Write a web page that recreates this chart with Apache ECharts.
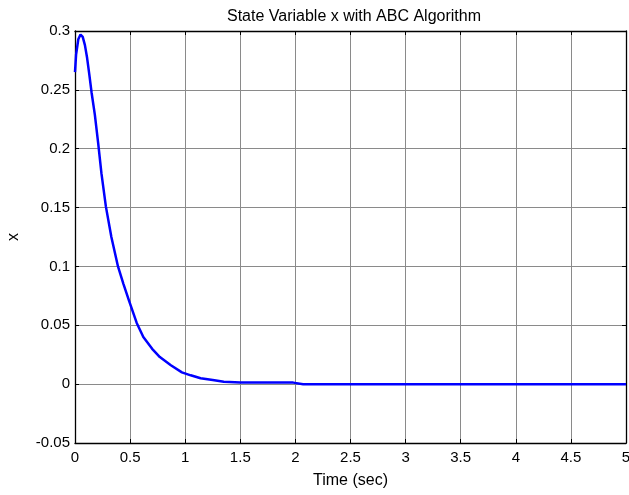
<!doctype html>
<html lang="en">
<head>
    <meta charset="UTF-8">
    <title>State Variable x</title>
    <script src="https://cdn.jsdelivr.net/npm/echarts@6/dist/echarts.min.js"></script>
    <style>
        body { margin: 0; background: #fff; }
        #main { width: 629px; height: 495px; }
    </style>
</head>
<body>
    <div id="main"></div>
    <script>
        // time (sec) and state x
        var time = [0, 0.01, 0.03, 0.05, 0.07, 0.09, 0.11, 0.13, 0.15, 0.18, 0.21, 0.24,
            0.28, 0.33, 0.39, 0.44, 0.49, 0.56, 0.62, 0.7, 0.77, 0.87, 0.97, 1.05, 1.14,
            1.25, 1.35, 1.5, 1.75, 1.98, 2.07, 2.5, 3, 3.5, 4, 4.5, 5];
        var xValues = [0.265, 0.28, 0.293, 0.297, 0.295, 0.288, 0.277, 0.263, 0.248, 0.229, 0.205, 0.179,
            0.151, 0.125, 0.100, 0.085, 0.071, 0.052, 0.040, 0.030, 0.023, 0.016, 0.010, 0.0075, 0.005,
            0.0035, 0.002, 0.0014, 0.0013, 0.0013, 0, 0, 0, 0, 0, 0, 0];

        var xTicks = { min: 0, max: 5, interval: 0.5 };
        var yTicks = { min: -0.05, max: 0.3, interval: 0.05 };

        var pts = time.map(function (t, i) { return [t, xValues[i]]; });

        var font = 'Liberation Sans, Arial, sans-serif';
        var gridLine = { show: true, lineStyle: { color: '#8a8a8a', width: 1 } };
        var boxLine = { show: true, onZero: false, lineStyle: { color: '#000', width: 1.3 } };
        var tick = { show: true, inside: true, length: 4, lineStyle: { color: '#000' } };

        var myChart = echarts.init(document.getElementById('main'));
        myChart.setOption({
            animation: false,
            title: {
                text: 'State Variable x with ABC Algorithm',
                left: 349, top: 4, textAlign: 'center',
                textStyle: { fontFamily: font, fontSize: 16, fontWeight: 'normal', color: '#000' }
            },
            grid: { left: 75, right: 3, top: 31, bottom: 52, outerBoundsMode: 'none', containLabel: false },
            xAxis: [{
                type: 'value', min: xTicks.min, max: xTicks.max, interval: xTicks.interval,
                name: 'Time (sec)', nameLocation: 'middle', nameGap: 30,
                nameTextStyle: { fontFamily: font, fontSize: 16, color: '#000' },
                axisLine: boxLine, axisTick: tick, splitLine: gridLine,
                axisLabel: { fontFamily: font, fontSize: 15, color: '#000', margin: 7 }
            }, {
                type: 'value', position: 'top', min: xTicks.min, max: xTicks.max, interval: xTicks.interval,
                axisLine: boxLine, axisTick: tick, splitLine: { show: false }, axisLabel: { show: false }
            }],
            yAxis: [{
                type: 'value', min: yTicks.min, max: yTicks.max, interval: yTicks.interval,
                name: 'x', nameLocation: 'middle', nameGap: 53,
                nameTextStyle: { fontFamily: font, fontSize: 16, color: '#000' },
                axisLine: boxLine, axisTick: tick, splitLine: gridLine,
                axisLabel: { fontFamily: font, fontSize: 15, color: '#000', margin: 5 }
            }, {
                type: 'value', position: 'right', min: yTicks.min, max: yTicks.max, interval: yTicks.interval,
                axisLine: boxLine, axisTick: tick, splitLine: { show: false }, axisLabel: { show: false }
            }],
            series: [{
                type: 'line',
                data: pts,
                showSymbol: false,
                smooth: false,
                lineStyle: { color: '#0000ff', width: 2.5 },
                itemStyle: { color: '#0000ff' }
            }]
        });
    </script>
</body>
</html>
